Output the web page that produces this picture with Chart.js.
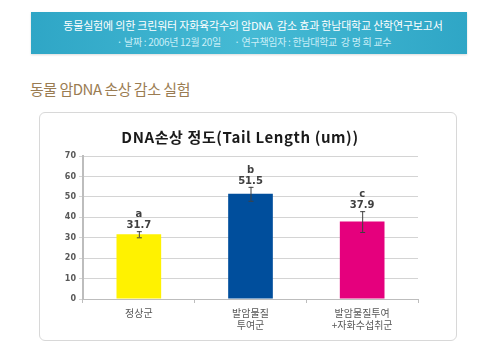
<!DOCTYPE html>
<html><head><meta charset="utf-8">
<script src="https://cdn.jsdelivr.net/npm/chart.js@4"></script>
<style>
html,body{margin:0;padding:0;background:#fff;width:500px;height:357px;overflow:hidden;font-family:"Noto Sans CJK KR",sans-serif;}
#banner{position:absolute;left:31px;top:12px;width:436px;height:42px;background:linear-gradient(90deg,#2fa6c6 0%,#45bad4 50%,#2fa6c6 100%);box-shadow:0 1px 2px rgba(0,0,0,0.15);}
#b1{position:absolute;left:0;width:436px;top:6px;text-align:center;color:#fff;font-size:11px;line-height:14px;padding-left:8px;box-sizing:border-box;white-space:nowrap;letter-spacing:-0.2px;}
#b2{position:absolute;left:0;width:436px;top:24px;text-align:center;color:#c9eef7;font-size:10px;line-height:12px;padding-left:10px;box-sizing:border-box;white-space:nowrap;letter-spacing:-0.3px;}
#sub{position:absolute;left:30px;top:80px;color:#9a7c52;font-size:15px;line-height:18px;letter-spacing:-0.5px;white-space:nowrap;}
#card{position:absolute;left:39px;top:112px;width:418px;height:229px;border:1px solid #d8d8d8;border-radius:6px;box-sizing:border-box;background:#fff;}
#c{position:absolute;left:0;top:0;}
</style></head>
<body>
<div id="banner"><div id="b1">동물실험에 의한 크린워터 자화육각수의 암DNA&nbsp; 감소 효과 한남대학교 산학연구보고서</div><div id="b2">· 날짜 : 2006년 12월 20일 &nbsp; &nbsp; &nbsp; · 연구책임자 : 한남대학교&nbsp; 강 명 희 교수</div></div>
<div id="sub">동물 암DNA 손상 감소 실험</div>
<div id="card"></div>
<canvas id="c" width="500" height="357"></canvas>
<script>
const categories = [["정상군"], ["발암물질","투여군"], ["발암물질투여","+자화수섭취군"]];
const values = [31.7, 51.5, 37.9];
const errors = [1.5, 3.4, 5.1];
const letters = ["a", "b", "c"];
const barColors = ["#fff200", "#004e9c", "#e5007d"];
const yTicks = [0, 10, 20, 30, 40, 50, 60, 70];
const chartTitle = "DNA손상 정도(Tail Length (um))";

const annot = {
  id: 'annot',
  afterDatasetsDraw(chart) {
    const ctx = chart.ctx;
    const meta = chart.getDatasetMeta(0);
    const y = chart.scales.y;
    ctx.save();
    meta.data.forEach((bar, i) => {
      const x = bar.x;
      const top = y.getPixelForValue(values[i] + errors[i]);
      const bot = y.getPixelForValue(values[i] - errors[i]);
      ctx.strokeStyle = '#404040';
      ctx.lineWidth = 1;
      ctx.beginPath();
      ctx.moveTo(x + 0.5, top); ctx.lineTo(x + 0.5, bot);
      ctx.moveTo(x - 2, top + 0.5); ctx.lineTo(x + 3, top + 0.5);
      ctx.moveTo(x - 2, bot + 0.5); ctx.lineTo(x + 3, bot + 0.5);
      ctx.stroke();
      ctx.fillStyle = '#404040';
      ctx.textAlign = 'center';
      ctx.textBaseline = 'alphabetic';
      ctx.font = 'bold 10px "DejaVu Sans", sans-serif';
      ctx.fillText(values[i].toFixed(1), x, top - 3);
      ctx.fillText(letters[i], x, top - 14);
    });
    ctx.fillStyle = '#1a1a1a';
    ctx.font = 'bold 15px "Noto Sans CJK KR", sans-serif';
    ctx.letterSpacing = '0.6px';
    ctx.textAlign = 'center';
    ctx.textBaseline = 'middle';
    ctx.fillText(chartTitle, 240, 137);
    ctx.restore();
  }
};

new Chart(document.getElementById('c'), {
  type: 'bar',
  data: {
    labels: categories,
    datasets: [{
      data: values,
      backgroundColor: barColors,
      borderWidth: 0,
      barPercentage: 0.4,
      categoryPercentage: 1.0
    }]
  },
  options: {
    responsive: false,
    animation: false,
    devicePixelRatio: 1,
    layout: { padding: { left: 53, right: 82, top: 156, bottom: 18 } },
    plugins: { legend: { display: false }, tooltip: { enabled: false }, title: { display: false } },
    scales: {
      y: {
        min: 0, max: 70,
        afterFit(s) { s.width = 30; },
        afterBuildTicks(s) { s.ticks = yTicks.map(v => ({ value: v })); },
        ticks: { color: '#595959', font: { size: 8, weight: 'bold', family: '"DejaVu Sans", sans-serif' }, padding: 3 },
        grid: { color: '#d4d4d4', lineWidth: 1, tickLength: 4 },
        border: { color: '#bdbdbd', width: 2 }
      },
      x: {
        afterFit(s) { s.height = 40; },
        ticks: { color: '#595959', font: { size: 10, family: '"Noto Sans CJK KR", sans-serif' }, padding: 4, maxRotation: 0 },
        grid: { drawOnChartArea: false, drawTicks: true, tickLength: 4, color: '#bdbdbd', offset: true },
        border: { color: '#bdbdbd', width: 1 }
      }
    }
  },
  plugins: [annot]
});
</script>
</body></html>
